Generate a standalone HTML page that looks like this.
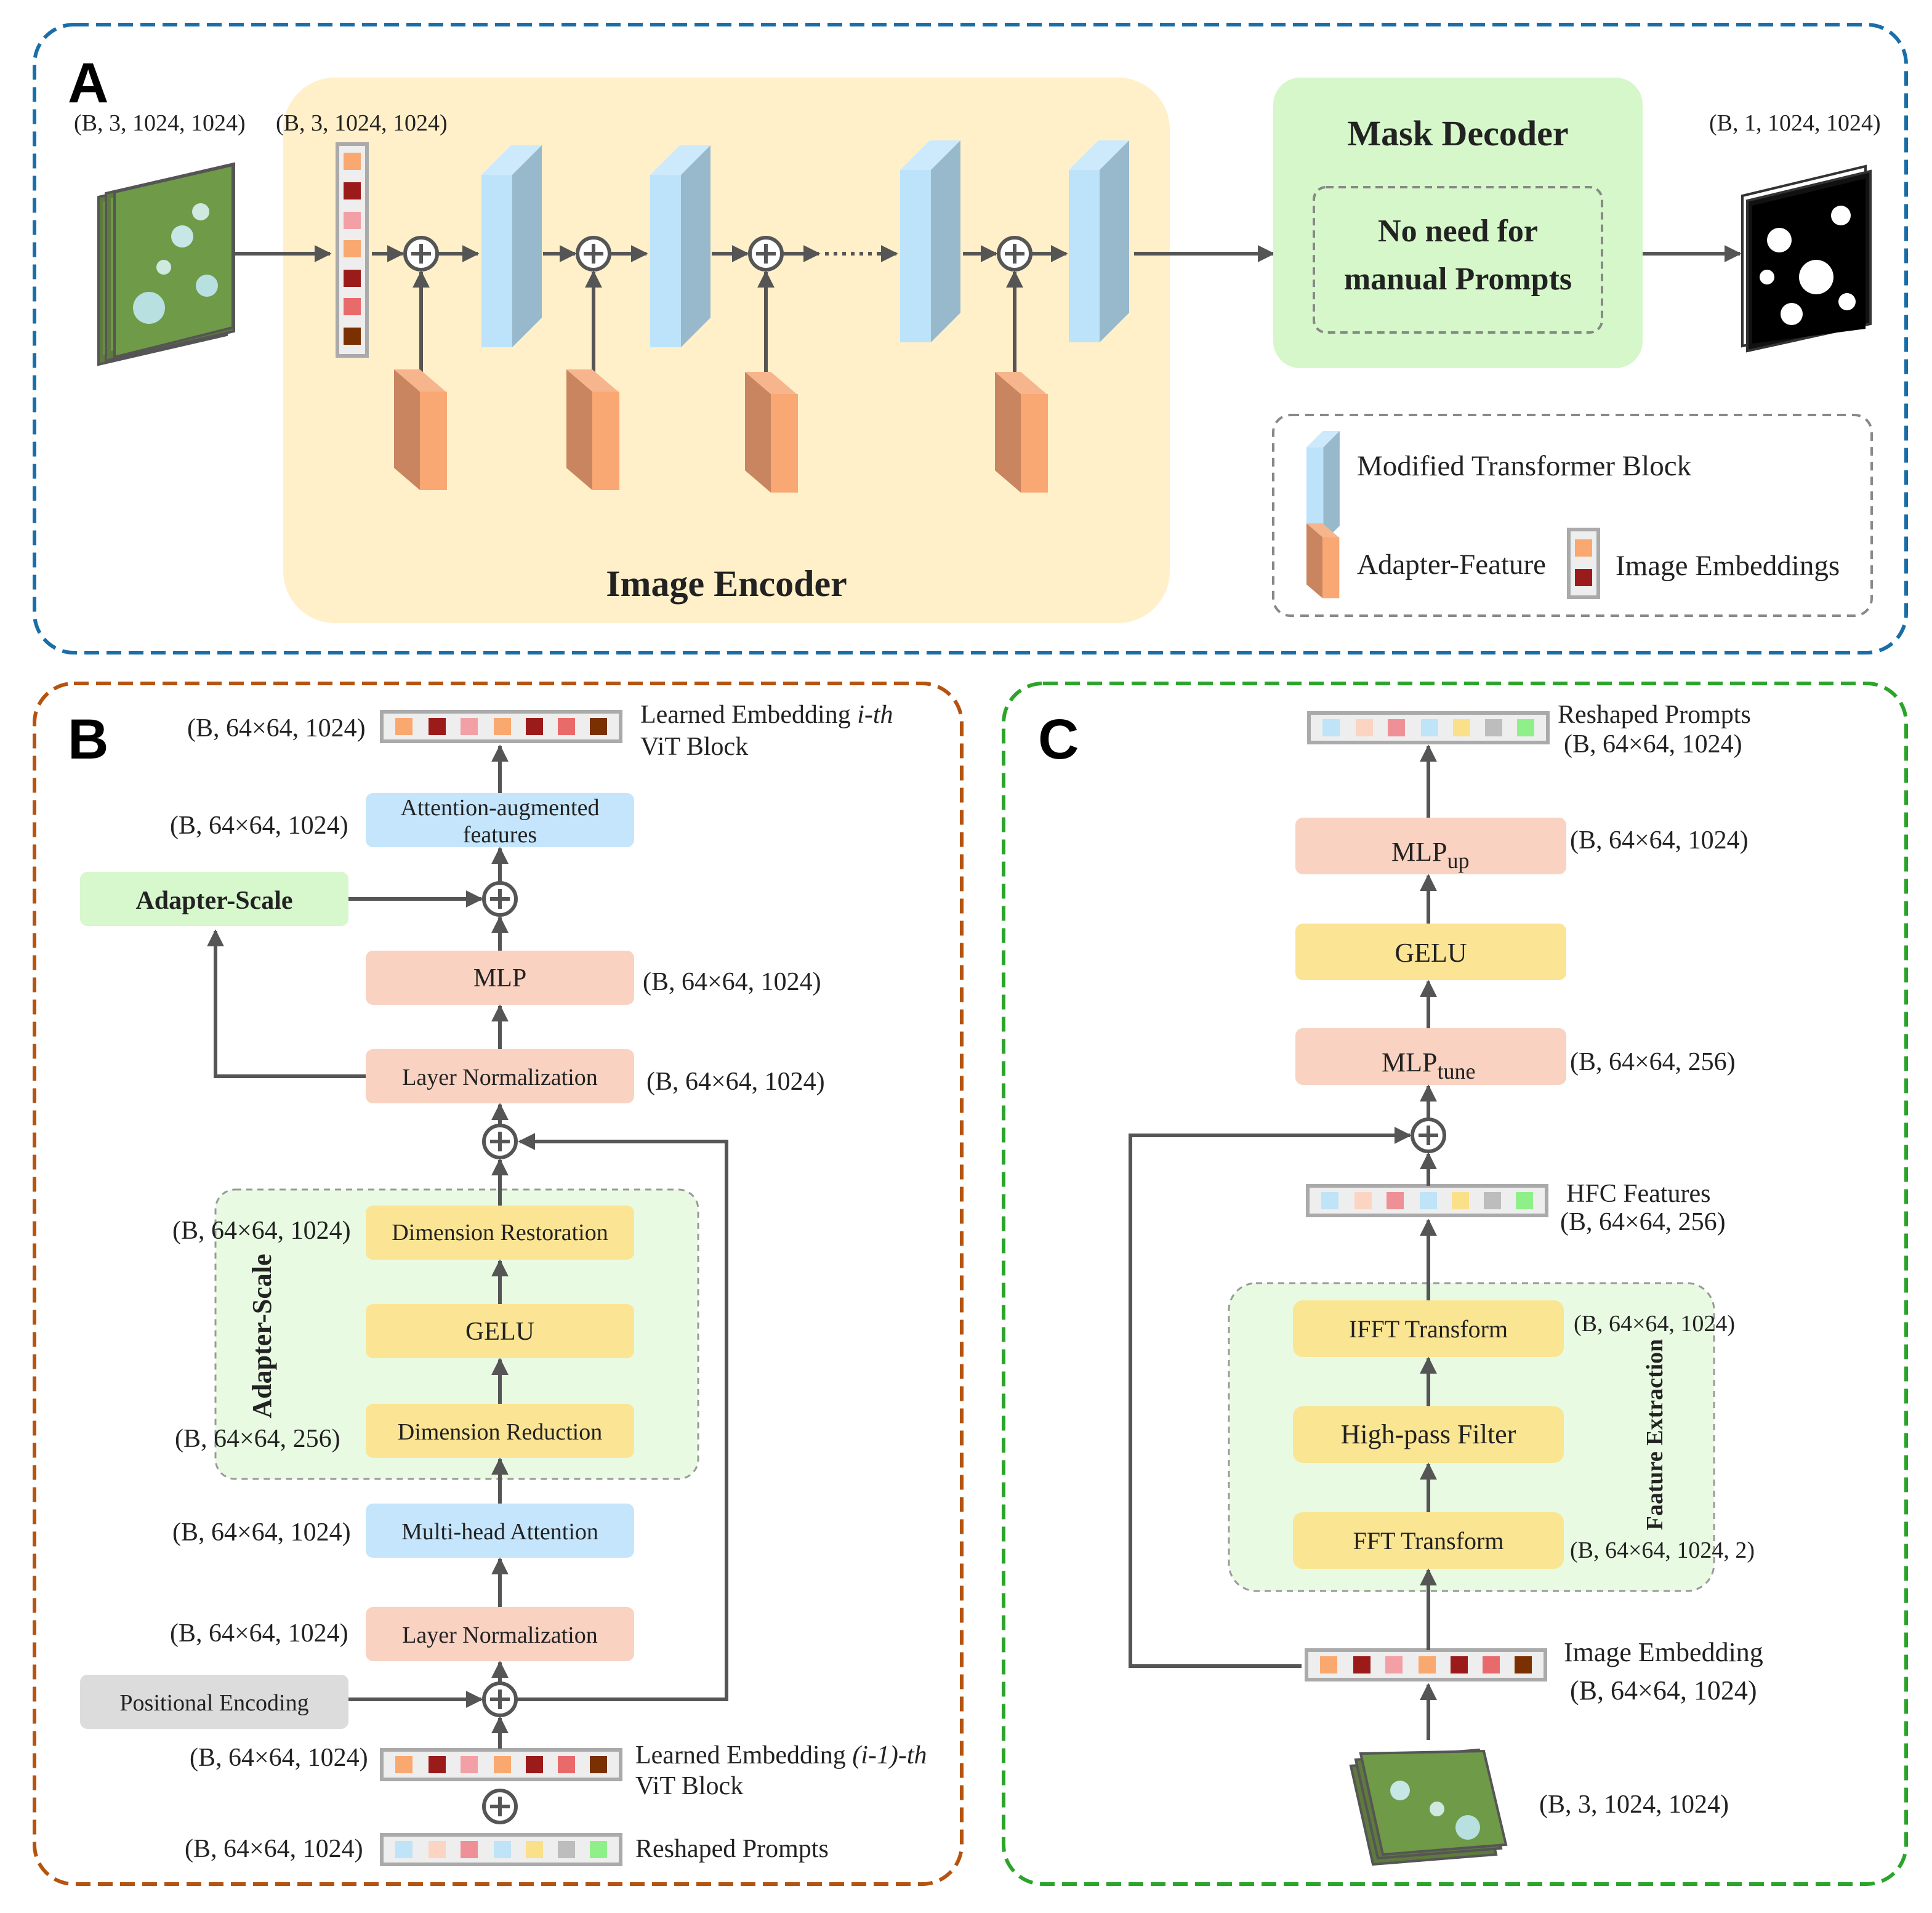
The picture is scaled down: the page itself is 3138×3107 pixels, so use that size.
<!DOCTYPE html>
<html><head><meta charset="utf-8"><style>
html,body{margin:0;padding:0;background:#fff;}
svg{display:block;}
text{font-family:"Liberation Serif",serif;fill:#222;}
</style></head><body>
<svg width="3138" height="3107" viewBox="0 0 1569 1553.5" xmlns="http://www.w3.org/2000/svg">
<defs>
<marker id="ar" viewBox="0 0 10 10" markerWidth="14" markerHeight="14" refX="9" refY="5" orient="auto" markerUnits="userSpaceOnUse"><path d="M0,0 L10,5 L0,10 Z" fill="#555"/></marker>
<g id="plus"><circle r="13" fill="#fff" stroke="#555" stroke-width="3"/><path d="M-8,0 H8 M0,-8 V8" stroke="#555" stroke-width="3"/></g>
<g id="emb">
<rect x="0" y="0" width="194" height="24" fill="#eee" stroke="#aaa" stroke-width="3"/>
<rect x="11" y="5" width="14" height="14" fill="#f9a870"/><rect x="38" y="5" width="14" height="14" fill="#9b1b1b"/><rect x="64" y="5" width="14" height="14" fill="#f2a0a5"/><rect x="91" y="5" width="14" height="14" fill="#f9a870"/><rect x="117" y="5" width="14" height="14" fill="#9b1b1b"/><rect x="143" y="5" width="14" height="14" fill="#e96a6a"/><rect x="169" y="5" width="14" height="14" fill="#7a3000"/>
</g>
<g id="rp">
<rect x="0" y="0" width="194" height="24" fill="#eee" stroke="#aaa" stroke-width="3"/>
<rect x="11" y="5" width="14" height="14" fill="#bfe3f7"/><rect x="38" y="5" width="14" height="14" fill="#fbd5c2"/><rect x="64" y="5" width="14" height="14" fill="#ee9095"/><rect x="91" y="5" width="14" height="14" fill="#bfe3f7"/><rect x="117" y="5" width="14" height="14" fill="#fbe08a"/><rect x="143" y="5" width="14" height="14" fill="#bdbdbd"/><rect x="169" y="5" width="14" height="14" fill="#8ff08a"/>
</g>
<g id="blk"><rect x="0" y="24" width="25" height="140" fill="#bde3fa"/><polygon points="0,24 24,0 49,0 25,24" fill="#cdeafc"/><polygon points="25,24 49,0 49,140 25,164" fill="#98b8cc"/></g>
<g id="adp"><polygon points="0,0 21,18 21,98 0,80" fill="#c98560"/><polygon points="0,0 21,0 42,18 21,18" fill="#f6b58c"/><rect x="21" y="18" width="22" height="80" fill="#f9a874"/></g>
<g id="sat"><polygon points="0,24 104,0 104,136 0,160" fill="#5f7a3d" stroke="#555" stroke-width="2"/><polygon points="4,28 100,6 100,130 4,152" fill="#6f9a47"/><circle cx="30" cy="110" r="12" fill="#b8e0e0"/><circle cx="60" cy="60" r="9" fill="#c7e6e6"/><circle cx="80" cy="100" r="8" fill="#b8e0e0"/><circle cx="45" cy="80" r="6" fill="#cfe8e0"/></g>
</defs>

<!-- ===== A ===== -->
<rect x="28" y="20" width="1520" height="510" rx="32" fill="none" stroke="#1a6ea8" stroke-width="3" stroke-dasharray="12 6"/>
<text x="55" y="83" style="font-family:'Liberation Sans',sans-serif;font-weight:bold;font-size:46px;fill:#000">A</text>
<rect x="230" y="63" width="720" height="443" rx="42" fill="#fff0c9"/>
<text x="590" y="484" text-anchor="middle" font-size="30" font-weight="bold">Image Encoder</text>
<text x="60" y="106" font-size="19">(B, 3, 1024, 1024)</text>
<text x="224" y="106" font-size="19">(B, 3, 1024, 1024)</text>
<text x="1388" y="106" font-size="19">(B, 1, 1024, 1024)</text>
<use href="#sat" x="80" y="136"/><use href="#sat" x="86" y="133"/>
<g transform="translate(93,132)"><polygon points="0,24 96,2 96,134 0,158" fill="#6f9a47" stroke="#555" stroke-width="2"/><circle cx="28" cy="118" r="13" fill="#b8e0e0"/><circle cx="55" cy="60" r="9" fill="#c7e6e6"/><circle cx="75" cy="100" r="9" fill="#b8e0e0"/><circle cx="40" cy="85" r="6" fill="#cfe8e0"/><circle cx="70" cy="40" r="7" fill="#cfe8e0"/></g>
<line x1="190" y1="206" x2="268" y2="206" stroke="#555" stroke-width="3" marker-end="url(#ar)"/>
<rect x="274" y="117" width="24" height="172" fill="#eee" stroke="#aaa" stroke-width="3"/>
<rect x="279" y="124" width="14" height="14" fill="#f9a870"/><rect x="279" y="148" width="14" height="14" fill="#9b1b1b"/><rect x="279" y="172" width="14" height="14" fill="#f2a0a5"/><rect x="279" y="195" width="14" height="14" fill="#f9a870"/><rect x="279" y="219" width="14" height="14" fill="#9b1b1b"/><rect x="279" y="242" width="14" height="14" fill="#e96a6a"/><rect x="279" y="266" width="14" height="14" fill="#7a3000"/>
<g stroke="#555" stroke-width="3" fill="none">
<line x1="302" y1="206" x2="327" y2="206" marker-end="url(#ar)"/>
<line x1="356" y1="206" x2="388" y2="206" marker-end="url(#ar)"/>
<line x1="441" y1="206" x2="467" y2="206" marker-end="url(#ar)"/>
<line x1="496" y1="206" x2="525" y2="206" marker-end="url(#ar)"/>
<line x1="578" y1="206" x2="607" y2="206" marker-end="url(#ar)"/>
<line x1="636" y1="206" x2="665" y2="206" marker-end="url(#ar)"/>
<line x1="670" y1="206" x2="712" y2="206" stroke-dasharray="3 4"/>
<line x1="712" y1="206" x2="728" y2="206" marker-end="url(#ar)"/>
<line x1="782" y1="206" x2="809" y2="206" marker-end="url(#ar)"/>
<line x1="838" y1="206" x2="866" y2="206" marker-end="url(#ar)"/>
<line x1="921" y1="206" x2="1034" y2="206" marker-end="url(#ar)"/>
<line x1="1334" y1="206" x2="1413" y2="206" marker-end="url(#ar)"/>
<line x1="342" y1="302" x2="342" y2="221" marker-end="url(#ar)"/>
<line x1="482" y1="302" x2="482" y2="221" marker-end="url(#ar)"/>
<line x1="622" y1="302" x2="622" y2="221" marker-end="url(#ar)"/>
<line x1="824" y1="302" x2="824" y2="221" marker-end="url(#ar)"/>
</g>
<use href="#plus" x="342" y="206"/><use href="#plus" x="482" y="206"/><use href="#plus" x="622" y="206"/><use href="#plus" x="824" y="206"/>
<use href="#blk" x="391" y="118"/><use href="#blk" x="528" y="118"/><use href="#blk" x="731" y="114"/><use href="#blk" x="868" y="114"/>
<use href="#adp" x="320" y="300"/><use href="#adp" x="460" y="300"/><use href="#adp" x="605" y="302"/><use href="#adp" x="808" y="302"/>
<rect x="1034" y="63" width="300" height="236" rx="22" fill="#d5f7c9"/>
<text x="1184" y="118" text-anchor="middle" font-size="29" font-weight="bold">Mask Decoder</text>
<rect x="1067" y="152" width="234" height="118" rx="10" fill="none" stroke="#888" stroke-width="2" stroke-dasharray="6 4"/>
<text x="1184" y="196" text-anchor="middle" font-size="26" font-weight="bold">No need for</text>
<text x="1184" y="235" text-anchor="middle" font-size="26" font-weight="bold">manual Prompts</text>
<g transform="translate(1415,135)"><polygon points="0,24 100,0 100,124 0,146" fill="#fff" stroke="#333" stroke-width="2"/><polygon points="4,28 104,4 104,128 4,150" fill="#111" stroke="#333" stroke-width="2"/><polygon points="8,32 100,10 100,132 8,144" fill="#000"/><circle cx="30" cy="60" r="10" fill="#fff"/><circle cx="60" cy="90" r="14" fill="#fff"/><circle cx="80" cy="40" r="8" fill="#fff"/><circle cx="40" cy="120" r="9" fill="#fff"/><circle cx="85" cy="110" r="7" fill="#fff"/><circle cx="20" cy="90" r="6" fill="#fff"/></g>
<rect x="1034" y="337" width="486" height="163" rx="14" fill="none" stroke="#888" stroke-width="2" stroke-dasharray="7 5"/>
<g transform="translate(1061,350) scale(0.55)"><use href="#blk" x="0" y="0"/></g>
<text x="1102" y="386" font-size="23.5">Modified Transformer Block</text>
<g transform="translate(1061,425) scale(0.62)"><use href="#adp" x="0" y="0"/></g>
<text x="1102" y="466" font-size="23.5">Adapter-Feature</text>
<rect x="1274" y="430" width="24" height="55" fill="#eee" stroke="#aaa" stroke-width="3"/>
<rect x="1279" y="438" width="14" height="14" fill="#f9a870"/><rect x="1279" y="462" width="14" height="14" fill="#9b1b1b"/>
<text x="1312" y="467" font-size="23.5">Image Embeddings</text>

<!-- ===== B ===== -->
<rect x="28" y="555" width="753" height="975" rx="32" fill="none" stroke="#b5530f" stroke-width="3" stroke-dasharray="12 6"/>
<text x="55" y="616" style="font-family:'Liberation Sans',sans-serif;font-weight:bold;font-size:46px;fill:#000">B</text>
<use href="#emb" x="310" y="578"/>
<text x="152" y="598" font-size="21">(B, 64×64, 1024)</text>
<text x="520" y="587" font-size="21">Learned Embedding  <tspan font-style="italic">i-th</tspan></text>
<text x="520" y="613" font-size="21">ViT Block</text>
<rect x="297" y="644" width="218" height="44" rx="6" fill="#c4e5fb"/>
<text x="406" y="662" text-anchor="middle" font-size="19">Attention-augmented</text>
<text x="406" y="684" text-anchor="middle" font-size="19">features</text>
<text x="138" y="677" font-size="21">(B, 64×64, 1024)</text>
<rect x="65" y="708" width="218" height="44" rx="6" fill="#d7f7cc"/>
<text x="174" y="738" text-anchor="middle" font-size="21" font-weight="bold">Adapter-Scale</text>
<rect x="297" y="772" width="218" height="44" rx="6" fill="#f9d2c1"/>
<text x="406" y="801" text-anchor="middle" font-size="21">MLP</text>
<text x="522" y="804" font-size="21">(B, 64×64, 1024)</text>
<rect x="297" y="852" width="218" height="44" rx="6" fill="#f9d2c1"/>
<text x="406" y="881" text-anchor="middle" font-size="19">Layer Normalization</text>
<text x="525" y="885" font-size="21">(B, 64×64, 1024)</text>
<rect x="175" y="966" width="392" height="235" rx="16" fill="#e9fae3" stroke="#999" stroke-width="1.5" stroke-dasharray="5 4"/>
<text transform="translate(220,1085) rotate(-90)" text-anchor="middle" font-size="22" font-weight="bold">Adapter-Scale</text>
<rect x="297" y="979" width="218" height="44" rx="6" fill="#fbe594"/>
<text x="406" y="1007" text-anchor="middle" font-size="19">Dimension Restoration</text>
<text x="140" y="1006" font-size="21">(B, 64×64, 1024)</text>
<rect x="297" y="1059" width="218" height="44" rx="6" fill="#fbe594"/>
<text x="406" y="1088" text-anchor="middle" font-size="21">GELU</text>
<rect x="297" y="1140" width="218" height="44" rx="6" fill="#fbe594"/>
<text x="406" y="1169" text-anchor="middle" font-size="19">Dimension Reduction</text>
<text x="142" y="1175" font-size="21">(B, 64×64, 256)</text>
<rect x="297" y="1221" width="218" height="44" rx="6" fill="#c4e5fb"/>
<text x="406" y="1250" text-anchor="middle" font-size="19">Multi-head Attention</text>
<text x="140" y="1251" font-size="21">(B, 64×64, 1024)</text>
<rect x="297" y="1305" width="218" height="44" rx="6" fill="#f9d2c1"/>
<text x="406" y="1334" text-anchor="middle" font-size="19">Layer Normalization</text>
<text x="138" y="1333" font-size="21">(B, 64×64, 1024)</text>
<rect x="65" y="1360" width="218" height="44" rx="6" fill="#dcdcdc"/>
<text x="174" y="1389" text-anchor="middle" font-size="19">Positional Encoding</text>
<use href="#emb" x="310" y="1421"/>
<text x="154" y="1434" font-size="21">(B, 64×64, 1024)</text>
<text x="516" y="1432" font-size="21">Learned Embedding  <tspan font-style="italic">(i-1)-th</tspan></text>
<text x="516" y="1457" font-size="21">ViT Block</text>
<use href="#rp" x="310" y="1490"/>
<text x="150" y="1508" font-size="21">(B, 64×64, 1024)</text>
<text x="516" y="1508" font-size="21">Reshaped Prompts</text>
<g stroke="#555" stroke-width="3" fill="none">
<line x1="406" y1="644" x2="406" y2="606" marker-end="url(#ar)"/>
<line x1="406" y1="716" x2="406" y2="689" marker-end="url(#ar)"/>
<line x1="406" y1="772" x2="406" y2="745" marker-end="url(#ar)"/>
<line x1="283" y1="730" x2="391" y2="730" marker-end="url(#ar)"/>
<line x1="406" y1="852" x2="406" y2="817" marker-end="url(#ar)"/>
<line x1="406" y1="913" x2="406" y2="897" marker-end="url(#ar)"/>
<polyline points="297,874 175,874 175,756" marker-end="url(#ar)"/>
<line x1="406" y1="979" x2="406" y2="942" marker-end="url(#ar)"/>
<line x1="406" y1="1059" x2="406" y2="1024" marker-end="url(#ar)"/>
<line x1="406" y1="1140" x2="406" y2="1104" marker-end="url(#ar)"/>
<line x1="406" y1="1221" x2="406" y2="1185" marker-end="url(#ar)"/>
<line x1="406" y1="1305" x2="406" y2="1266" marker-end="url(#ar)"/>
<line x1="406" y1="1366" x2="406" y2="1350" marker-end="url(#ar)"/>
<line x1="283" y1="1380" x2="391" y2="1380" marker-end="url(#ar)"/>
<polyline points="419,1380 590,1380 590,927 422,927" marker-end="url(#ar)"/>
<line x1="406" y1="1420" x2="406" y2="1395" marker-end="url(#ar)"/>
</g>
<use href="#plus" x="406" y="730"/><use href="#plus" x="406" y="927"/><use href="#plus" x="406" y="1380"/><use href="#plus" x="406" y="1467"/>

<!-- ===== C ===== -->
<rect x="815" y="555" width="733" height="975" rx="32" fill="none" stroke="#2aa52a" stroke-width="3" stroke-dasharray="12 6"/>
<text x="843" y="616" style="font-family:'Liberation Sans',sans-serif;font-weight:bold;font-size:46px;fill:#000">C</text>
<use href="#rp" x="1063" y="579"/>
<text x="1265" y="587" font-size="21">Reshaped Prompts</text>
<text x="1270" y="611" font-size="21">(B, 64×64, 1024)</text>
<rect x="1052" y="664" width="220" height="46" rx="6" fill="#f9d2c1"/>
<text x="1130" y="699" font-size="22">MLP<tspan font-size="18" dy="6">up</tspan></text>
<text x="1275" y="689" font-size="21">(B, 64×64, 1024)</text>
<rect x="1052" y="750" width="220" height="46" rx="6" fill="#fbe594"/>
<text x="1162" y="781" text-anchor="middle" font-size="22">GELU</text>
<rect x="1052" y="835" width="220" height="46" rx="6" fill="#f9d2c1"/>
<text x="1122" y="870" font-size="22">MLP<tspan font-size="18" dy="6">tune</tspan></text>
<text x="1275" y="869" font-size="21">(B, 64×64, 256)</text>
<use href="#rp" x="1062" y="963"/>
<text x="1272" y="976" font-size="21">HFC Features</text>
<text x="1267" y="999" font-size="21">(B, 64×64, 256)</text>
<rect x="998" y="1042" width="394" height="250" rx="22" fill="#e9fae3" stroke="#999" stroke-width="1.5" stroke-dasharray="5 4"/>
<rect x="1050" y="1056" width="220" height="46" rx="8" fill="#fae593"/>
<text x="1160" y="1086" text-anchor="middle" font-size="20">IFFT Transform</text>
<text x="1278" y="1081" font-size="19">(B, 64×64, 1024)</text>
<rect x="1050" y="1142" width="220" height="46" rx="8" fill="#fae593"/>
<text x="1160" y="1172" text-anchor="middle" font-size="22">High-pass Filter</text>
<rect x="1050" y="1228" width="220" height="46" rx="8" fill="#fae593"/>
<text x="1160" y="1258" text-anchor="middle" font-size="20">FFT Transform</text>
<text x="1275" y="1265" font-size="19">(B, 64×64, 1024, 2)</text>
<text transform="translate(1350,1165) rotate(-90)" text-anchor="middle" font-size="19" font-weight="bold">Faature Extraction</text>
<use href="#emb" x="1061" y="1340"/>
<text x="1270" y="1349" font-size="22">Image Embedding</text>
<text x="1275" y="1380" font-size="22">(B, 64×64, 1024)</text>
<g transform="translate(1097,1424)"><polygon points="0,10 100,2 118,82 18,90" fill="#5f7a3d" stroke="#555" stroke-width="2"/><polygon points="4,5 104,-3 122,77 22,85" fill="#5f7a3d" stroke="#555" stroke-width="2"/><polygon points="8,0 108,-2 126,74 26,82" fill="#6f9a47" stroke="#555" stroke-width="2"/><circle cx="40" cy="30" r="8" fill="#c7e6e6"/><circle cx="95" cy="60" r="10" fill="#b8e0e0"/><circle cx="70" cy="45" r="6" fill="#cfe8e0"/></g>
<text x="1250" y="1472" font-size="21">(B, 3, 1024, 1024)</text>
<g stroke="#555" stroke-width="3" fill="none">
<line x1="1160" y1="664" x2="1160" y2="606" marker-end="url(#ar)"/>
<line x1="1160" y1="750" x2="1160" y2="711" marker-end="url(#ar)"/>
<line x1="1160" y1="835" x2="1160" y2="797" marker-end="url(#ar)"/>
<line x1="1160" y1="908" x2="1160" y2="882" marker-end="url(#ar)"/>
<line x1="1160" y1="963" x2="1160" y2="937" marker-end="url(#ar)"/>
<line x1="1160" y1="1056" x2="1160" y2="991" marker-end="url(#ar)"/>
<line x1="1160" y1="1142" x2="1160" y2="1103" marker-end="url(#ar)"/>
<line x1="1160" y1="1228" x2="1160" y2="1189" marker-end="url(#ar)"/>
<line x1="1160" y1="1340" x2="1160" y2="1275" marker-end="url(#ar)"/>
<line x1="1160" y1="1413" x2="1160" y2="1368" marker-end="url(#ar)"/>
<polyline points="1057,1353 918,1353 918,922 1145,922" marker-end="url(#ar)"/>
</g>
<use href="#plus" x="1160" y="922"/>
</svg>
</body></html>
